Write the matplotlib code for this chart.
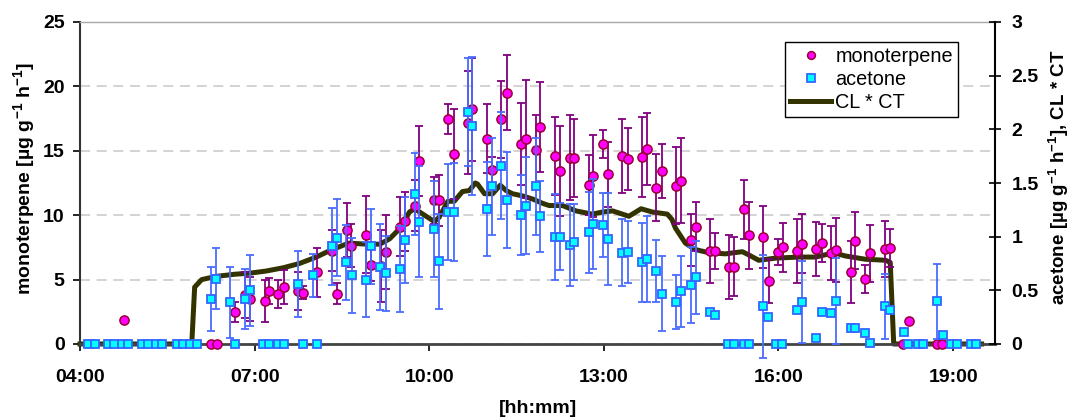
import matplotlib
matplotlib.use("Agg")
import matplotlib.pyplot as plt
import matplotlib.transforms as mtransforms
from matplotlib.ticker import FuncFormatter
import numpy as np

plt.rcParams['font.family'] = ['Liberation Sans', 'DejaVu Sans']
plt.rcParams['font.weight'] = 'bold'
plt.rcParams['mathtext.fontset'] = 'custom'
plt.rcParams['mathtext.rm'] = 'Liberation Sans:bold'
plt.rcParams['mathtext.it'] = 'Liberation Sans:bold'
plt.rcParams['mathtext.bf'] = 'Liberation Sans:bold'
plt.rcParams['mathtext.default'] = 'rm'

# ---------------- data (time in decimal hours) ----------------
mono_time = [4.76, 6.25, 6.35, 6.67, 6.83, 6.92, 7.17, 7.25, 7.41, 7.50, 7.75, 7.83,
             8.08, 8.33, 8.41, 8.58, 8.66, 8.92, 9.00, 9.17, 9.25, 9.50, 9.58, 9.75,
             9.83, 10.08, 10.16, 10.33, 10.42, 10.66, 10.74, 10.99, 11.08, 11.24, 11.33,
             11.58, 11.66, 11.83, 11.91, 12.16, 12.25, 12.41, 12.49, 12.74, 12.82, 12.99,
             13.07, 13.32, 13.41, 13.66, 13.74, 13.90, 14.00, 14.24, 14.32, 14.49, 14.58,
             14.82, 14.91, 15.15, 15.24, 15.41, 15.49, 15.74, 15.83, 15.99, 16.07, 16.32,
             16.41, 16.65, 16.74, 16.91, 16.99, 17.24, 17.32, 17.48, 17.57, 17.83, 17.91,
             18.14, 18.24, 18.73, 18.81]
mono_value = [1.84, 0, 0, 2.48, 3.78, 3.47, 3.34, 4.12, 3.90, 4.42, 4.12, 3.98,
              5.56, 7.25, 3.91, 8.82, 7.64, 8.49, 6.16, 6.08, 7.14, 9.11, 9.52, 10.74,
              14.21, 11.15, 11.15, 17.47, 14.75, 17.18, 18.22, 15.94, 13.51, 17.44, 19.51,
              15.53, 15.92, 15.06, 16.82, 14.60, 13.46, 14.47, 14.44, 12.34, 13.04, 15.53,
              13.17, 14.60, 14.39, 14.49, 15.14, 12.14, 13.43, 12.29, 12.68, 8.07, 9.11,
              7.22, 7.22, 6.00, 6.00, 10.46, 8.46, 8.28, 4.89, 7.17, 7.51, 7.22,
              7.79, 7.35, 7.84, 7.07, 7.32, 5.61, 8.02, 5.07, 7.04, 7.38, 7.45,
              0, 1.81, 0, 0]
mono_err = [0, 0, 0, 0.8, 1.8, 1.7, 1.6, 1.0, 1.1, 1.3, 1.5, 0.5,
            1.9, 1.6, 0.8, 2.1, 1.7, 3.0, 1.3, 2.8, 2.9, 2.3, 2.3, 2.0,
            2.7, 1.8, 2.0, 1.2, 3.5, 4.0, 4.0, 2.7, 1.0, 3.0, 2.9,
            3.2, 4.6, 2.7, 3.5, 3.0, 3.5, 3.3, 3.0, 2.3, 3.2, 1.1,
            2.5, 2.9, 2.4, 3.1, 2.8, 2.6, 2.1, 3.0, 3.3, 2.0, 1.9,
            2.5, 1.4, 2.5, 2.3, 2.3, 2.6, 2.4, 1.7, 1.0, 1.9, 2.5,
            2.3, 2.1, 1.5, 2.1, 2.5, 2.4, 2.2, 1.1, 2.2, 2.2, 1.5,
            0, 0, 0, 0]

acet_time = [4.14, 4.26, 4.48, 4.58, 4.72, 4.82, 5.06, 5.17, 5.30, 5.41, 5.66, 5.77,
             5.89, 6.01, 6.25, 6.33, 6.58, 6.66, 6.83, 6.92, 7.14, 7.24, 7.40, 7.50,
             7.75, 7.83, 8.00, 8.07, 8.33, 8.41, 8.57, 8.67, 8.92, 9.00, 9.16, 9.25,
             9.50, 9.58, 9.75, 9.83, 10.08, 10.16, 10.33, 10.42, 10.66, 10.74, 10.99,
             11.08, 11.24, 11.33, 11.58, 11.66, 11.83, 11.91, 12.16, 12.25, 12.41, 12.49,
             12.74, 12.82, 12.99, 13.07, 13.32, 13.41, 13.66, 13.74, 13.90, 14.00, 14.24,
             14.32, 14.49, 14.58, 14.82, 14.91, 15.14, 15.24, 15.40, 15.49, 15.74, 15.82,
             15.96, 16.06, 16.32, 16.41, 16.65, 16.74, 16.91, 16.99, 17.24, 17.32, 17.48,
             17.57, 17.83, 17.91, 18.16, 18.23, 18.39, 18.48, 18.73, 18.83, 18.96, 19.06,
             19.30, 19.39]
acet_value = [0, 0, 0, 0, 0, 0, 0, 0, 0, 0, 0, 0,
              0, 0, 0.42, 0.61, 0.39, 0, 0.42, 0.50, 0, 0, 0, 0,
              0.56, 0, 0.64, 0, 0.91, 0.99, 0.76, 0.64, 0.60, 0.91, 0.72, 0.66,
              0.70, 0.97, 1.40, 1.14, 1.07, 0.77, 1.23, 1.23, 2.16, 2.03, 1.26,
              1.47, 1.66, 1.34, 1.20, 1.29, 1.47, 1.19, 1.00, 1.00, 0.92, 0.95,
              1.04, 1.12, 1.11, 0.98, 0.85, 0.86, 0.76, 0.79, 0.68, 0.47, 0.39,
              0.49, 0.55, 0.62, 0.30, 0.27, 0, 0, 0, 0, 0.35, 0.25,
              0, 0, 0.32, 0.39, 0.06, 0.30, 0.29, 0.40, 0.15, 0.15, 0.10,
              0.01, 0.35, 0.32, 0.11, 0, 0, 0, 0.40, 0.08, 0, 0,
              0, 0]
acet_err = [0, 0, 0, 0, 0, 0, 0, 0, 0, 0, 0, 0,
            0, 0, 0.30, 0.28, 0.33, 0, 0.28, 0.33, 0, 0, 0, 0,
            0.31, 0, 0.20, 0, 0.36, 0.36, 0.35, 0.35, 0.35, 0.35, 0.40, 0.35,
            0.40, 0.40, 0.38, 0.52, 0.45, 0.44, 0.45, 0.46, 0.50, 0.64, 0.44,
            0.45, 0.50, 0.45, 0.37, 0.45, 0.45, 0.33, 0.40, 0.31, 0.38, 0.35,
            0.38, 0.42, 0.30, 0.43, 0.31, 0.29, 0.37, 0.40, 0.29, 0.35, 0.25,
            0.33, 0.35, 0.34, 0, 0, 0, 0, 0, 0, 0.48, 0,
            0, 0, 0, 0.38, 0, 0, 0, 0.40, 0, 0, 0,
            0, 0.30, 0, 0, 0, 0, 0, 0.35, 0, 0, 0,
            0, 0]

clct_time = [4.00, 5.92, 5.97, 6.09, 6.34, 6.66, 6.92, 7.20, 7.49, 7.77, 8.06, 8.29,
             8.52, 8.63, 8.92, 9.15, 9.32, 9.52, 9.66, 9.75, 9.89, 10.09, 10.17, 10.32,
             10.43, 10.57, 10.69, 10.79, 10.83, 10.95, 11.09, 11.22, 11.32, 11.43, 11.60,
             11.78, 11.95, 12.06, 12.29, 12.52, 12.80, 12.98, 13.15, 13.43, 13.64, 13.83,
             14.09, 14.17, 14.23, 14.40, 14.57, 14.81, 15.09, 15.38, 15.49, 15.66, 15.95,
             16.35, 16.64, 16.95, 17.15, 17.49, 17.84, 17.92, 17.98, 19.49]
clct_value = [0, 0, 0.53, 0.60, 0.63, 0.65, 0.66, 0.68, 0.71, 0.75, 0.81, 0.87,
              0.92, 0.94, 0.93, 0.93, 0.98, 1.09, 1.23, 1.26, 1.21, 1.14, 1.18, 1.33,
              1.33, 1.42, 1.43, 1.50, 1.49, 1.40, 1.40, 1.48, 1.43, 1.40, 1.38,
              1.35, 1.31, 1.29, 1.29, 1.24, 1.21, 1.23, 1.24, 1.19, 1.26, 1.23,
              1.21, 1.16, 1.08, 0.94, 0.88, 0.85, 0.84, 0.86, 0.83, 0.78, 0.80,
              0.81, 0.81, 0.85, 0.82, 0.79, 0.78, 0.76, 0, 0]

x_ticks = [4, 7, 10, 13, 16, 19]
left_ticks = [0, 5, 10, 15, 20, 25]
right_ticks = [0, 0.5, 1, 1.5, 2, 2.5, 3]

# ---------------- styles ----------------
MONO_FACE, MONO_EDGE, MONO_ERR = '#ff00ff', '#990033', '#800080'
ACET_FACE, ACET_EDGE, ACET_ERR = '#00ffff', '#3366ff', '#4a6cff'
LINE_COL = '#333300'

fig = plt.figure(figsize=(10.73, 4.18), dpi=100)
ax = fig.add_axes([80 / 1073, 74 / 418, 915 / 1073, 322 / 418])
axR = ax.twinx()

ax.set_xlim(4, 19.72)
ax.set_ylim(0, 25)
axR.set_ylim(0, 3)

# gridlines
ax.set_axisbelow(True)
ax.yaxis.grid(True, linestyle=(0, (6, 4)), color='#cccccc', linewidth=1.2)

# CL*CT line (right-axis scale, drawn underneath the markers)
trans = mtransforms.blended_transform_factory(ax.transData, axR.transData)
line_h, = ax.plot(clct_time, clct_value, transform=trans, color=LINE_COL,
                  linewidth=3.6, solid_joinstyle='round', zorder=1.5,
                  clip_on=False, label='CL * CT')

# monoterpene
mt = np.array(mono_time); mv = np.array(mono_value); me = np.array(mono_err)
m = me > 0
eb = ax.errorbar(mt[m], mv[m], yerr=me[m], fmt='none', ecolor=MONO_ERR,
                 elinewidth=1.3, capsize=3.2, capthick=1.3, zorder=2)
for a in list(eb.lines[1]) + list(eb.lines[2]):
    a.set_clip_on(False)
mono_h, = ax.plot(mt, mv, 'o', markersize=6.6, markerfacecolor=MONO_FACE,
                  markeredgecolor=MONO_EDGE, markeredgewidth=1.1, linestyle='none',
                  clip_on=False, zorder=3, label='monoterpene')

# acetone
at = np.array(acet_time); av = np.array(acet_value); ae = np.array(acet_err)
m2 = ae > 0
eb2 = axR.errorbar(at[m2], av[m2], yerr=ae[m2], fmt='none', ecolor=ACET_ERR,
                   elinewidth=1.3, capsize=3.2, capthick=1.3, zorder=2)
for a in list(eb2.lines[1]) + list(eb2.lines[2]):
    a.set_clip_on(False)
acet_h, = axR.plot(at, av, 's', markersize=6.2, markerfacecolor=ACET_FACE,
                   markeredgecolor=ACET_EDGE, markeredgewidth=1.3, linestyle='none',
                   clip_on=False, zorder=3, label='acetone')

# axes styling
ax.set_xticks(x_ticks)
ax.xaxis.set_major_formatter(FuncFormatter(lambda v, p: f"{int(round(v)):02d}:00"))
ax.set_yticks(left_ticks)
axR.set_yticks(right_ticks)
axR.yaxis.set_major_formatter(FuncFormatter(lambda v, p: f"{v:g}"))

ax.tick_params(axis='x', direction='out', length=5, width=1.2, pad=13,
               labelsize=14, colors='black')
ax.tick_params(axis='y', direction='out', length=5, width=1.2, pad=6,
               labelsize=14)
axR.tick_params(axis='y', direction='inout', length=8, width=1.2, pad=8,
                labelsize=14)

ax.spines['right'].set_visible(False)
ax.spines['top'].set_color('#a8a8a8')
ax.spines['top'].set_linewidth(1.0)
ax.spines['left'].set_color('#333333')
ax.spines['left'].set_linewidth(1.5)
ax.spines['bottom'].set_color('#444444')
ax.spines['bottom'].set_linewidth(2.0)
for sp in ['top', 'left', 'bottom']:
    axR.spines[sp].set_visible(False)
axR.spines['right'].set_color('black')
axR.spines['right'].set_linewidth(1.5)

ax.set_xlabel('[hh:mm]', fontsize=14, fontweight='bold')
ax.xaxis.set_label_coords(0.5, -0.175)
ax.set_ylabel('monoterpene [µg g$^{-1}$ h$^{-1}$]', fontsize=14, fontweight='bold')
ax.yaxis.set_label_coords(-0.047, 0.514)
axR.set_ylabel('acetone [µg g$^{-1}$ h$^{-1}$], CL * CT', fontsize=13.5,
               fontweight='bold')
axR.yaxis.set_label_coords(1.057, 0.517)

leg = axR.legend([mono_h, acet_h, line_h], ['monoterpene', 'acetone', 'CL * CT'],
                 loc='upper right', bbox_to_anchor=(0.9596, 0.9388),
                 prop={'weight': 'normal', 'size': 14.3}, frameon=True,
                 fancybox=False, framealpha=1, edgecolor='black',
                 borderpad=0.25, labelspacing=0.2, handlelength=2.1,
                 handletextpad=0.2, borderaxespad=0, markerscale=0.85)
leg.get_frame().set_linewidth(1.0)

fig.savefig('out.png', dpi=100)
